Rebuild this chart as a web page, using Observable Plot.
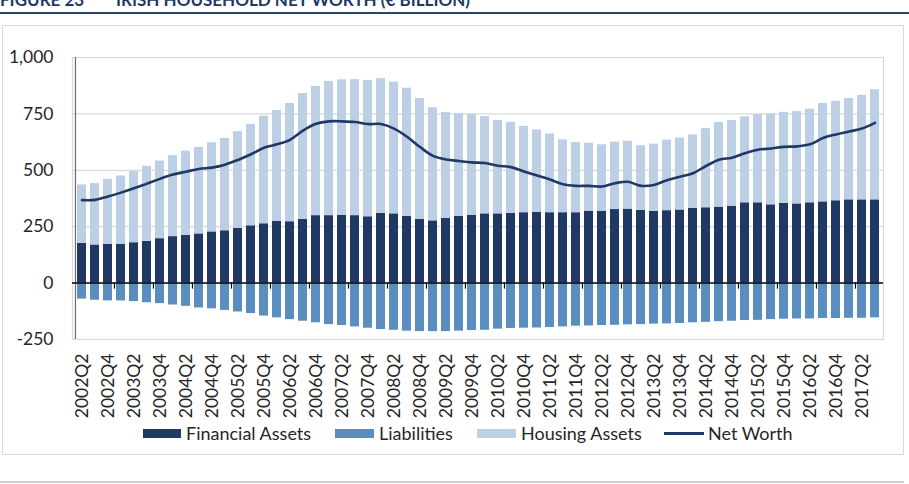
<!DOCTYPE html>
<html><head><meta charset="utf-8">
<script src="https://cdn.jsdelivr.net/npm/d3@7"></script>
<script src="https://cdn.jsdelivr.net/npm/@observablehq/plot@0.6"></script>
<style>
body{margin:0;background:#fff;width:909px;height:484px;overflow:hidden;position:relative;font-family:Lato,sans-serif;color:#262626;}
#title{position:absolute;top:-8px;left:0;font-weight:bold;font-size:17px;line-height:16px;color:#1f3864;white-space:nowrap;}
#title span{position:absolute;top:0;}
#navline{position:absolute;left:0;top:12px;width:909px;height:2px;background:#2b4170;}
#box{position:absolute;left:2px;top:25px;width:902px;height:430px;border:1.5px solid #d9d9d9;box-sizing:border-box;}
#botline{position:absolute;left:0;top:481px;width:904px;height:2px;background:#d0d0d0;}
#chart{position:absolute;left:0;top:0;}
.sw{position:absolute;top:429px;height:9px;}
.lt{position:absolute;top:422px;font-size:18px;line-height:22px;white-space:nowrap;color:#262626;}
</style></head><body>
<div id="title"><span style="left:0">FIGURE 23</span><span style="left:116px">IRISH HOUSEHOLD NET WORTH (€ BILLION)</span></div>
<div id="navline"></div>
<div id="box"></div>
<div id="botline"></div>
<div id="chart"></div>
<div id="legend"></div>
<script>
const quarters = [
 "2002Q2","2002Q3","2002Q4","2003Q1","2003Q2","2003Q3","2003Q4","2004Q1","2004Q2","2004Q3","2004Q4",
 "2005Q1","2005Q2","2005Q3","2005Q4","2006Q1","2006Q2","2006Q3","2006Q4","2007Q1","2007Q2","2007Q3","2007Q4",
 "2008Q1","2008Q2","2008Q3","2008Q4","2009Q1","2009Q2","2009Q3","2009Q4","2010Q1","2010Q2","2010Q3","2010Q4",
 "2011Q1","2011Q2","2011Q3","2011Q4","2012Q1","2012Q2","2012Q3","2012Q4","2013Q1","2013Q2","2013Q3","2013Q4",
 "2014Q1","2014Q2","2014Q3","2014Q4","2015Q1","2015Q2","2015Q3","2015Q4","2016Q1","2016Q2","2016Q3","2016Q4",
 "2017Q1","2017Q2","2017Q3"];
const financialAssets = [176,169,172,172,179,185,197,206,212,218,227,232,243,254,263,274,272,282,299,299,301,299,294,309,307,296,282,276,287,296,301,307,307,309,312,313,312,312,312,319,319,326,328,322,318,321,324,331,334,337,341,356,356,347,353,351,356,360,365,369,369,369];
const housingAssets = [259,272,288,303,315,333,344,359,373,383,395,409,428,449,477,491,524,558,573,595,600,603,604,597,584,568,536,501,469,455,446,431,414,404,383,366,349,323,311,301,294,299,301,287,298,313,319,326,351,375,380,381,391,402,404,409,415,436,441,449,463,488];
const liabilities = [-71,-76,-79,-79,-82,-87,-91,-97,-103,-110,-114,-121,-128,-135,-146,-154,-162,-169,-176,-184,-188,-194,-200,-206,-209,-213,-215,-215,-215,-213,-210,-209,-204,-201,-200,-199,-197,-194,-191,-190,-188,-187,-185,-184,-182,-181,-179,-176,-174,-171,-169,-166,-165,-162,-160,-159,-159,-157,-157,-156,-156,-154];
const netWorth = [368,369,384,401,420,441,462,481,494,506,512,525,546,571,600,615,635,676,706,717,717,714,705,705,685,649,603,564,548,541,535,532,520,514,495,477,459,438,431,431,428,443,449,431,435,456,471,487,519,547,556,576,591,597,604,606,615,643,659,672,685,710];
const yTicks = [-250,0,250,500,750,1000];
const seriesNames = ["Financial Assets","Liabilities","Housing Assets","Net Worth"];
const colors = ["#1f3864","#5a8ec0","#bccfe4","#1f3864"];

const W = 909, H = 420, mL = 72, mR = 26, mT = 57, mB = 81;
const step = (W - mL - mR) / quarters.length;

const bars = [];
quarters.forEach((q,i) => {
  bars.push({q, s: seriesNames[0], v: financialAssets[i]});
  bars.push({q, s: seriesNames[2], v: housingAssets[i]});
  bars.push({q, s: seriesNames[1], v: liabilities[i]});
});
const lineData = quarters.map((q,i) => ({q, v: netWorth[i]}));
const labelTicks = quarters.filter((d,i) => i % 2 === 0);
const boundaryTicks = quarters.filter((d,i) => i > 0 && i % 3 === 0);

const chart = Plot.plot({
  width: W, height: H,
  marginLeft: mL, marginRight: mR, marginTop: mT, marginBottom: mB,
  style: {fontFamily: "Lato, sans-serif", fontSize: "17.5px", color: "#262626", background: "transparent", overflow: "visible"},
  x: {type: "band", domain: quarters, paddingInner: 0.32, paddingOuter: 0.16, align: 0.5,
      ticks: labelTicks, tickRotate: -90, tickSize: 0, tickPadding: 14, label: null},
  y: {domain: [-250, 1000], ticks: yTicks, tickSize: 0, tickPadding: 19, label: null,
      tickFormat: d => d.toLocaleString("en-US")},
  color: {domain: seriesNames.slice(0,3), range: colors.slice(0,3)},
  marks: [
    Plot.frame({stroke: "#d9d9d9", strokeWidth: 1.2}),
    Plot.ruleY(yTicks.filter(d => d !== 0), {stroke: "#d9d9d9", strokeWidth: 1.2}),
    Plot.barY(bars, {x: "q", y: "v", fill: "s", order: seriesNames.slice(0,3)}),
    Plot.ruleX([quarters[0]], {dx: -step/2, y1: -250, y2: 1000, stroke: "#6e6e6e", strokeWidth: 1.2}),
    Plot.ruleY([0], {stroke: "#000", strokeWidth: 1.5}),
    Plot.ruleX(boundaryTicks, {dx: -step/2, y1: 0, y2: 0, insetBottom: -6, stroke: "#000", strokeWidth: 1.2}),
    Plot.lineY(lineData, {x: "q", y: "v", stroke: colors[3], strokeWidth: 2.6, curve: "catmull-rom"})
  ]
});
document.getElementById("chart").appendChild(chart);

// legend
const leg = document.getElementById("legend");
const items = [
  {name: seriesNames[0], color: colors[0], sx: 143, sw: 38, tx: 186, type: "box"},
  {name: seriesNames[1], color: colors[1], sx: 335, sw: 39, tx: 379, type: "box"},
  {name: seriesNames[2], color: colors[2], sx: 477, sw: 39, tx: 521, type: "box"},
  {name: seriesNames[3], color: colors[3], sx: 664, sw: 40, tx: 708, type: "line"}
];
items.forEach(it => {
  const s = document.createElement("div");
  s.className = "sw";
  s.style.left = it.sx + "px";
  s.style.width = it.sw + "px";
  s.style.background = it.color;
  if (it.type === "line") { s.style.top = "432px"; s.style.height = "2.6px"; }
  leg.appendChild(s);
  const t = document.createElement("div");
  t.className = "lt";
  t.style.left = it.tx + "px";
  t.textContent = it.name;
  leg.appendChild(t);
});
</script>
</body></html>
